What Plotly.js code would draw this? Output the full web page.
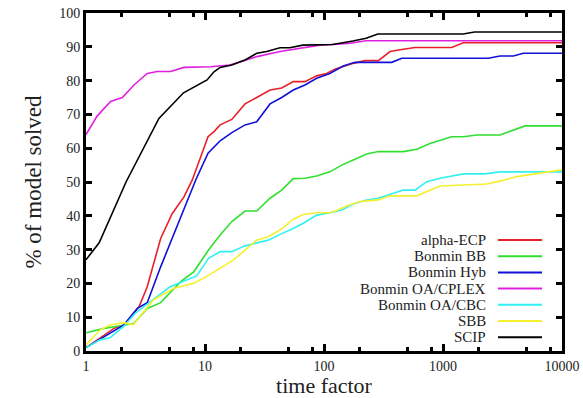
<!DOCTYPE html>
<html>
<head>
<meta charset="utf-8">
<script src="https://cdn.plot.ly/plotly-3.0.1.min.js"></script>
<style>html,body{margin:0;padding:0;background:#fff;}#chart{width:583px;height:398px;}</style>
</head>
<body>
<div id="chart"></div>
<script>
// ---- data ----
var seriesNames = ["alpha-ECP", "Bonmin BB", "Bonmin Hyb", "Bonmin OA/CPLEX", "Bonmin OA/CBC", "SBB", "SCIP"];
var seriesColors = ["#e8202a", "#30e030", "#1010d8", "#e020e0", "#30f0f0", "#f4f030", "#000000"];

var alphaEcpX = [1, 1.42, 1.72, 2.08, 2.53, 2.79, 3.27, 4.24, 5.31, 6.66, 7.82, 10.6, 11.9, 13.4, 16.8, 21.7, 27.2, 35.2, 44.1, 55.2, 69.2, 86.8, 105, 125, 176, 221, 286, 359, 464, 582, 1183, 1482, 10000];
var alphaEcpY = [1, 4.7, 6.7, 7.7, 11.1, 13.1, 19, 33.3, 40.7, 45.6, 50.6, 63.4, 64.9, 66.9, 68.5, 73.1, 75, 77.2, 77.8, 79.7, 79.7, 81.4, 82.1, 83.4, 85.1, 85.9, 85.9, 88.6, 89.3, 89.8, 89.8, 91.2, 91.2];

var bonminBBX = [1, 1.42, 2.08, 2.53, 3.27, 4.24, 6.25, 8.08, 10.7, 13.4, 16.8, 21.7, 27.2, 35.2, 44.1, 55.2, 69.2, 86.8, 112, 141, 176, 228, 286, 464, 601, 778, 1183, 1482, 1920, 3013, 4890, 10000];
var bonminBBY = [5.4, 6.7, 7.6, 8.2, 12.6, 14.3, 20.5, 23.5, 29.9, 34.3, 38.3, 41.4, 41.4, 45.2, 47.6, 51, 51.1, 51.8, 53, 55, 56.5, 58.3, 59, 59, 59.7, 61.4, 63.4, 63.4, 63.9, 63.9, 66.6, 66.6];

var bonminHybX = [1, 1.42, 1.72, 2.08, 2.7, 3.27, 4.24, 5.49, 6.66, 8.36, 10.6, 13.4, 16.8, 21.7, 27.2, 35.2, 44.1, 55.2, 69.2, 86.8, 112, 145, 182, 371, 450, 2404, 3013, 3898, 4730, 10000];
var bonminHybY = [1, 4.2, 6.2, 7.7, 12.6, 14.3, 24.9, 34.8, 41.7, 50.6, 58.5, 62.2, 64.6, 66.9, 67.8, 73.1, 75, 77.2, 78.7, 80.7, 82.1, 84.3, 85.4, 85.4, 86.6, 86.6, 87.3, 87.3, 88.1, 88.1];

var cplexX = [1, 1.24, 1.61, 2.02, 2.53, 3.27, 3.97, 5.15, 6.65, 11.1, 16.2, 21, 27.3, 42.7, 66.5, 92.6, 118, 160, 226, 10000];
var cplexY = [64, 69.5, 73.8, 75, 78.7, 82.1, 82.7, 82.7, 83.9, 84.1, 84.6, 85.9, 87.1, 88.6, 89.7, 90.5, 90.7, 91, 91.8, 91.8];

var cbcX = [1, 1.31, 1.59, 2.06, 2.58, 3.93, 5.08, 8.52, 10.7, 13.4, 16.8, 21.7, 27.2, 34, 42.7, 53.5, 67, 86.8, 112, 141, 176, 228, 286, 359, 464, 582, 730, 944, 1482, 2254, 3013, 10000];
var cbcY = [1, 3.3, 3.9, 7.2, 11.1, 16.1, 19, 22.2, 27.4, 29.4, 29.4, 31.1, 31.9, 32.8, 34.5, 36, 37.8, 40.2, 40.9, 41.7, 43.5, 44.7, 45.2, 46.4, 47.6, 47.6, 50.1, 51.1, 52.4, 52.4, 53, 53];

var sbbX = [1, 1.31, 1.59, 2.06, 2.5, 3.68, 5.42, 7.97, 10.3, 17.3, 27.2, 34, 42.7, 55.2, 67, 86.8, 112, 120, 155, 201, 286, 359, 601, 730, 944, 1482, 2330, 3130, 4160, 10000];
var sbbY = [1.8, 6.2, 7.7, 8.4, 7.8, 15.1, 18.5, 20, 22, 26.9, 32.8, 33.8, 35.8, 39, 40.4, 40.9, 40.9, 41.2, 42.9, 44.2, 44.7, 45.9, 45.9, 47.1, 48.8, 49.1, 49.4, 50.4, 51.6, 53.6];

var scipX = [1, 1.29, 2.17, 3.17, 4.1, 6.6, 10.4, 11.9, 13.4, 16.8, 21.7, 27.3, 33, 42.7, 51.6, 66.5, 92.6, 118, 175, 226, 283, 1474, 1844, 10000];
var scipY = [27, 32, 50, 61, 68.8, 76.4, 80.2, 82.6, 83.9, 84.6, 86.1, 88.1, 88.6, 89.7, 89.7, 90.5, 90.5, 90.7, 91.7, 92.5, 93.8, 93.8, 94.4, 94.4];

var xTickVals = [1, 10, 100, 1000, 10000];
var xTickText = ["1", "10", "100", "1000", "10000"];
var xMinorVals = [2, 5, 8, 20, 50, 80, 200, 500, 800, 2000, 5000, 8000];
var yTickVals = [0, 10, 20, 30, 40, 50, 60, 70, 80, 90, 100];

var xs = [alphaEcpX, bonminBBX, bonminHybX, cplexX, cbcX, sbbX, scipX];
var ys = [alphaEcpY, bonminBBY, bonminHybY, cplexY, cbcY, sbbY, scipY];

var FONT = "'Liberation Serif', 'DejaVu Serif', serif";

var traces = seriesNames.map(function (n, i) {
  return {x: xs[i], y: ys[i], name: n, type: "scatter", mode: "lines",
          line: {color: seriesColors[i], width: 1.6}, showlegend: false, hoverinfo: "skip"};
});

// custom legend (text right, sample line on right), like the reference
var annotations = [], shapes = [];
var legTop = (351 - 240) / 338, legStep = 16.2 / 338;
seriesNames.forEach(function (n, i) {
  var yy = legTop - i * legStep;
  annotations.push({xref: "paper", yref: "paper", x: 0.8424, y: yy, xanchor: "right", yanchor: "middle",
    text: n, showarrow: false, borderpad: 0, font: {family: FONT, size: 15, color: "#222"}});
  shapes.push({type: "line", xref: "paper", yref: "paper", x0: 0.8655, x1: 0.958, y0: yy, y1: yy,
    line: {color: seriesColors[i], width: 2}});
});

var layout = {
  width: 583, height: 398,
  margin: {l: 86, r: 21, t: 13, b: 47},
  paper_bgcolor: "#fff", plot_bgcolor: "#fff",
  font: {family: FONT, size: 14, color: "#222"},
  xaxis: {
    type: "log", range: [0, 4], automargin: false,
    tickmode: "array", tickvals: xTickVals, ticktext: xTickText,
    ticks: "inside", ticklen: 7, tickwidth: 3, tickcolor: "#000",
    minor: {tickmode: "array", tickvals: xMinorVals, ticks: "inside", ticklen: 4, tickwidth: 3, tickcolor: "#000", showgrid: false},
    showline: true, linewidth: 3, linecolor: "#000", mirror: "ticks",
    showgrid: false, zeroline: false,
    tickfont: {family: FONT, size: 14, color: "#222"},
    title: {text: "time factor", font: {family: FONT, size: 22, color: "#222"}, standoff: 10}
  },
  yaxis: {
    range: [0, 100], automargin: false,
    tickmode: "array", tickvals: yTickVals,
    ticks: "inside", ticklen: 6, tickwidth: 3, tickcolor: "#000",
    showline: true, linewidth: 3, linecolor: "#000", mirror: "ticks",
    showgrid: false, zeroline: false,
    tickfont: {family: FONT, size: 14, color: "#222"},
    title: {text: "% of model solved", font: {family: FONT, size: 23, color: "#222"}, standoff: 12}
  },
  annotations: annotations,
  shapes: shapes
};

Plotly.newPlot("chart", traces, layout, {staticPlot: true, displayModeBar: false});
</script>
</body>
</html>
